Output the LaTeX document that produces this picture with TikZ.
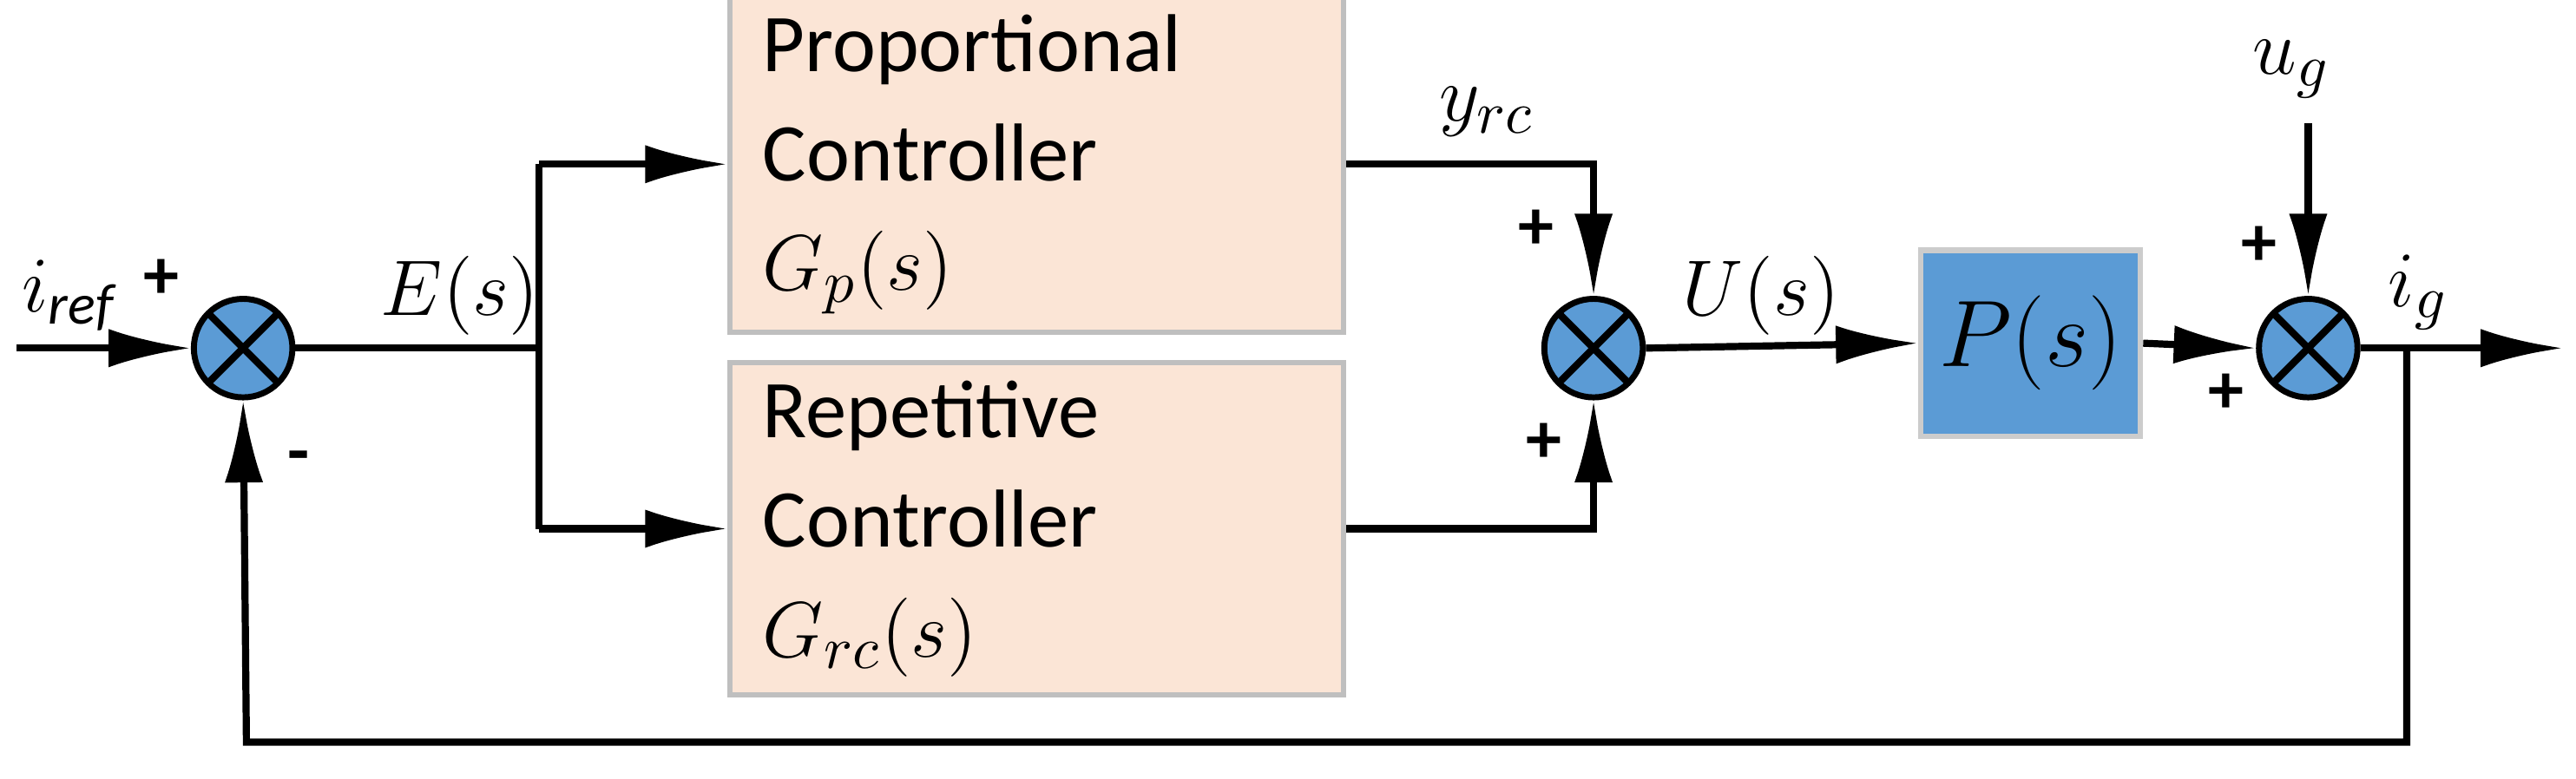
\documentclass[tikz,border=0pt]{standalone}
\usepackage{fontspec}
\setmainfont{Carlito}
\usetikzlibrary{arrows.meta}
\definecolor{sblue}{HTML}{5B9BD5}
\definecolor{spink}{HTML}{FBE5D6}
\begin{document}
\begin{tikzpicture}[x=0.3pt,y=-0.3pt,
  ln/.style={line width=1.3pt},
  ar/.style={ln,-{Latex[length=15pt,width=7pt]}},
  sum/.style={circle,draw,line width=1.1pt,fill=sblue,minimum size=18pt,inner sep=0pt,path picture={
    \draw[line width=1.3pt] ([shift={(-6.4pt,-6.4pt)}]path picture bounding box.center) -- ([shift={(6.4pt,6.4pt)}]path picture bounding box.center);
    \draw[line width=1.3pt] ([shift={(-6.4pt,6.4pt)}]path picture bounding box.center) -- ([shift={(6.4pt,-6.4pt)}]path picture bounding box.center);}},
  blk/.style={draw=black!25,line width=1pt,fill=spink,minimum width=112pt,minimum height=47pt,align=left,font=\fontsize{15}{20}\selectfont,text width=100pt},
  lb/.style={font=\fontsize{15}{18}\selectfont},
  pm/.style={font=\fontsize{13}{16}\selectfont\bfseries}]
\useasboundingbox (0,0) rectangle (1568,474);
\node[sum] (s1) at (148,212) {};
\node[sum] (s2) at (970,212) {};
\node[sum] (s3) at (1405,212) {};
\node[blk] (pc) at (631,100) {Proportional\\Controller $G_p(s)$};
\node[blk] (rc) at (631,322) {Repetitive\\Controller $G_{rc}(s)$};
\node[draw=black!20,line width=1pt,fill=sblue,minimum width=40pt,minimum height=34pt,font=\fontsize{17}{20}\selectfont] (p) at (1236,209) {$P(s)$};
\coordinate (in) at (10,212);
\coordinate (br) at (328,212);
\coordinate (bt) at (328,100);
\coordinate (bb) at (328,322);
\coordinate (ug) at (1405,75);
\coordinate (out) at (1560,212);
\coordinate (fb) at (1465,212);
\coordinate (fbb) at (1465,452);
\coordinate (fbl) at (150,452);
\draw[ar] (in) -- (s1.west);
\draw[ln] (s1.east) -- (br);
\draw[ln] (bt) -- (bb);
\draw[ar] (bt) -- (pc.west);
\draw[ar] (bb) -- (rc.west);
\draw[ar] (pc.east) -| (s2.north);
\draw[ar] (rc.east) -| (s2.south);
\draw[ar] (s2.east) -- (p.west);
\draw[ar] (p.east) -- (s3.west);
\draw[ar] (ug) -- (s3.north);
\draw[ar] (s3.east) -- (out);
\draw[ar] (fb) -- (fbb) -- (fbl) -- (s1.south);
\node[lb] at (42,180) {$i_{\mathit{ref}}$};
\node[pm] at (98,170) {+};
\node[pm] at (182,282) {-};
\node[lb] at (280,180) {$E(s)$};
\node[lb] at (905,68) {$y_{rc}$};
\node[pm] at (935,140) {+};
\node[pm] at (940,270) {+};
\node[lb] at (1072,180) {$U(s)$};
\node[lb] at (1395,42) {$u_g$};
\node[pm] at (1375,150) {+};
\node[pm] at (1355,240) {+};
\node[lb] at (1472,178) {$i_g$};
\end{tikzpicture}
\end{document}
